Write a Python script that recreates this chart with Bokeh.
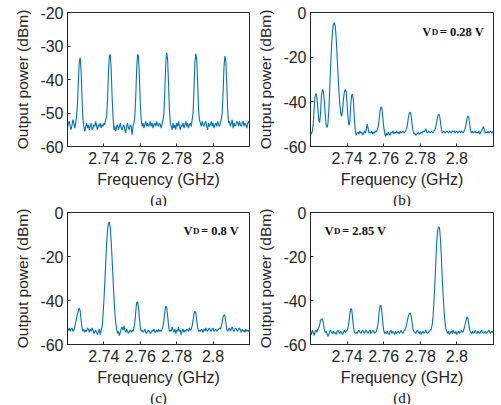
import numpy as np
from bokeh.plotting import figure
from bokeh.layouts import gridplot
from bokeh.models import FixedTicker, Label, Range1d, Title
from bokeh.embed import file_html
from bokeh.resources import INLINE

# sweep frequency samples (GHz)
freq = np.linspace(2.72, 2.82, 201)

x_ticks = [2.74, 2.76, 2.78, 2.8]
x_tick_labels = ["2.74", "2.76", "2.78", "2.8"]

y_ticks_a = [-60, -50, -40, -30, -20]
y_ticks_bcd = [-60, -40, -20, 0]

captions = ["(a)", "(b)", "(c)", "(d)"]
vd_labels = [None, "= 0.28 V", "= 0.8 V", "= 2.85 V"]

power_a = [
    -54.5, -53, -52.5, -54, -55, -53.5, -52, -53, -54.5, -53,
    -51, -47, -40, -34.5, -33.5, -38, -46, -52,
    -54, -55.5, -54, -53, -54.5, -53.5, -55, -54, -53, -55, -54.5, -53.5, -54, -52.5, -54, -55, -53.5, -54, -53, -54.5, -53.5, -54, -53, -53.5, -52,
    -51, -46, -38, -33, -32.5, -37, -45, -51,
    -55, -54, -55.5, -54, -53.5, -55, -54, -53, -54.5, -55, -54, -53.5, -55, -56, -54, -53, -54.5, -55, -53.5, -54, -56.5, -54, -53,
    -51, -45, -37, -32.5, -33, -39, -47, -52,
    -54, -53, -54.5, -53.5, -52.5, -54, -53, -54, -53.5, -52.5, -54, -53, -54.5, -53.5, -53, -54, -52.5, -53.5, -54, -53, -53.5, -54.5, -53, -52,
    -50, -43, -35, -32, -34, -41, -49, -53,
    -54, -55, -53, -54.5, -53.5, -55, -53, -54, -52.5, -54, -55, -53.5, -54, -53, -54.5, -53.5, -52.5, -54, -53, -54.5, -53.5, -53, -54, -52,
    -50, -43, -35, -32.3, -34, -41, -49, -52,
    -53, -54, -52.5, -53.5, -54, -53, -52.5, -54, -55, -53, -54, -53.5, -52.5, -54, -53, -54.5, -53.5, -53, -54, -52.5, -53.5, -54, -53, -52,
    -50, -44, -36, -33, -34.5, -41, -49, -53,
    -52.5, -54, -53, -52, -54.5, -53, -54, -53.5, -52.5, -53, -54, -52.5, -53.5, -54, -53, -52.5, -54, -53, -53.5, -54.5, -53, -52.5, -53.5,
]

power_b = [
    -53.5, -54.5, -53, -50, -43, -37.5, -36.2, -38, -43, -48, -49.3, -45, -37, -34.5, -35, -39, -45, -50, -51.5,
    -50, -44, -34, -24, -15, -9, -5.5, -4.5,
    -6, -11, -19, -27, -35, -41, -45, -46.5, -44, -39, -35.5, -34.5, -35.5, -41, -47, -50.5, -49, -41, -37, -36.5, -40, -48, -53, -55,
    -54, -53.5, -54.5, -53, -54, -53.5, -55, -54, -53, -54, -52.5, -50, -52, -54, -53.5, -54, -53, -54.5, -53.5, -54, -53, -53.5, -52.5,
    -51, -48, -44, -42.2, -43, -47, -51, -54,
    -55.5, -54, -55, -53.5, -54.5, -55, -53.5, -54, -53, -54.5, -53.5, -54, -53, -54, -53.5, -54.5, -53, -54, -53.5, -53, -54, -53.5, -53, -52,
    -50, -47, -45, -44.6, -46, -50, -53, -54.5,
    -54, -55, -54.5, -54, -53.5, -54.5, -54, -53.5, -54, -53, -53.5, -53, -52, -53.5, -54, -53, -53.5, -54, -53, -53.5, -54, -53, -52.5, -51,
    -49, -46.5, -45.5, -46, -49, -52, -54, -53.5,
    -53, -54, -53.5, -53, -53.5, -54, -53, -53.5, -54, -53, -53.5, -53, -54, -53.5, -53, -54, -53.5, -53, -54, -53, -53.5, -54, -53, -52,
    -50, -47.5, -46.3, -47, -50, -53, -54, -53,
    -54, -53.5, -53, -54, -53.5, -54, -53, -54.5, -53.5, -53, -52, -51, -52.5, -54, -53.5, -54, -53, -54, -53.5, -53, -54, -53.5, -53,
]

power_c = [
    -53, -53.5, -52.5, -54, -53, -52.5, -54, -53.5, -52, -50,
    -48, -46, -44.5, -43.4, -45, -49, -52.5, -54,
    -53, -54.5, -53.5, -54, -52.5, -53, -54.5, -53, -54, -52.5, -53.5, -55, -54, -53.5, -54.5, -55.5, -54, -53, -55.5, -53.5,
    -52, -47, -40, -32, -23, -14, -8, -4.8, -4.4, -7, -13, -21, -30, -38, -45, -50, -53,
    -55, -54, -56, -54.5, -53, -52, -53.5, -51.5, -53.5, -54.5, -53, -54, -55, -54, -53.5, -54.5, -53.5, -54, -52.5,
    -50, -45, -41, -40.6, -43, -48, -52, -54,
    -53.5, -54.5, -54, -53, -54.5, -55, -54, -53.5, -54, -55, -54.5, -53.5, -54, -53, -54.5, -54, -53.5, -54.5, -53, -54, -53.5, -54, -53, -51.5,
    -49, -45, -42.6, -43, -47, -51, -54, -53.5,
    -54, -52, -53.5, -54.5, -53, -55, -53.5, -54, -52, -54, -53.5, -55.5, -54, -53, -54.5, -53.5, -54, -53, -53.5, -54, -52.5, -53.5, -53, -51.5,
    -49, -46, -44.9, -45.5, -49, -52, -54, -53.5,
    -54, -53, -53.5, -54.5, -53, -54, -52.5, -53.5, -54, -53, -52.5, -53.5, -54, -53, -52.5, -54, -53.5, -53, -54, -53.5, -53, -52.5, -53, -51.5,
    -50, -47.5, -46.4, -47, -50, -53, -54, -53,
    -52.5, -54, -53, -52, -53.5, -54, -53, -52.5, -53.5, -54, -53, -52.5, -53.5, -54.5, -53, -54, -53.5, -54.5, -53, -54, -53.5, -54, -53.5,
]

power_d = [
    -54, -55.5, -53.5, -54.5, -56, -54, -53.5, -54.5, -53, -52.5,
    -51, -49, -48.5, -48.4, -50, -53, -54.5, -54,
    -55, -56.3, -55.5, -54, -53.5, -54.5, -55, -54, -55, -54.5, -55.5, -54, -53.5, -54.5, -55, -54, -54.5, -55.5, -54.5, -53.5, -54.5, -54, -53.5, -52.5,
    -50, -46, -43.7, -44, -48, -52, -54.5, -55,
    -54.5, -55, -54, -53.5, -54.5, -55, -54, -53.5, -54.5, -55, -54, -53.5, -54.5, -55, -54, -53.5, -55, -54.5, -53.5, -54, -55, -54.5, -54, -52.5,
    -50, -45, -42.5, -42.2, -45, -50, -53.5, -55,
    -54.5, -55, -54, -55, -55.5, -54, -53.5, -55, -54, -54.5, -55.5, -54, -55, -54.5, -54, -55, -54.5, -53.5, -54.5, -55, -54, -53.5, -52.5, -51,
    -49, -47, -46, -45.7, -47, -50, -53, -54,
    -54.5, -55, -54, -53.5, -54.5, -55, -54, -55.5, -54.5, -54, -55, -54.5, -53.5, -54.5, -55, -54.5, -54, -53.5,
    -53, -51, -47, -40, -32, -22, -13, -8, -6.5, -7, -12, -20, -30, -38, -45, -50, -53, -54,
    -55, -54, -55.5, -54.5, -54, -55, -53.5, -54.5, -55, -54, -55.5, -54.5, -54, -55, -54.5, -53.5, -54.5, -54, -52.5,
    -51, -49, -47.4, -48, -51, -53.5, -54.5, -55,
    -54, -55, -54.5, -53.5, -54.5, -55, -54, -54.5, -55, -54, -53.5, -54.5, -55, -54.5, -54, -55, -54.5, -54, -53.5, -54.5, -55, -54, -54.5, -54,
]

powers = [power_a, power_b, power_c, power_d]

AX = "#262626"
LINE = "#0072BD"
SANS = "Liberation Sans"
SERIF = "Liberation Serif"


def style_axis(ax, ticker, overrides):
    ax.ticker = FixedTicker(ticks=ticker)
    ax.major_label_overrides = overrides
    ax.major_tick_in = 3
    ax.major_tick_out = 0
    ax.minor_tick_line_color = None
    ax.major_tick_line_color = AX
    ax.axis_line_color = AX
    ax.major_label_text_color = AX
    ax.major_label_text_font = SANS
    ax.major_label_text_font_size = "16px"


def make_panel(k):
    row, col = k // 2, k % 2
    y = powers[k]
    if k == 0:
        ylo, yhi, yt = -60, -20, y_ticks_a
    else:
        ylo, yhi, yt = -60, 0, y_ticks_bcd
    height = 206 if row == 0 else 198
    width = 251 if col == 0 else 244
    p = figure(width=width, height=height, output_backend="svg", toolbar_location=None,
               title=None,
               x_range=Range1d(2.72, 2.82), y_range=Range1d(ylo, yhi),
               min_border_left=67 if col == 0 else 59,
               min_border_right=2,
               min_border_top=12 if row == 0 else 6,
               min_border_bottom=58)
    p.grid.visible = False
    p.outline_line_color = AX
    p.outline_line_alpha = 1.0
    p.background_fill_color = "white"
    p.border_fill_color = "white"

    xo = dict(zip(x_ticks, x_tick_labels))
    yo = {v: str(v) for v in yt}
    style_axis(p.xaxis[0], x_ticks, xo)
    style_axis(p.yaxis[0], yt, yo)
    p.xaxis[0].major_label_standoff = 5
    p.yaxis[0].major_label_standoff = 4
    p.xaxis[0].axis_label = "Frequency (GHz)"
    p.yaxis[0].axis_label = "Output power (dBm)"
    for ax in (p.xaxis[0], p.yaxis[0]):
        ax.axis_label_text_font = SANS
        ax.axis_label_text_font_style = "normal"
        ax.axis_label_text_color = AX
    p.xaxis[0].axis_label_text_font_size = "16px"
    p.yaxis[0].axis_label_text_font_size = "15.5px"
    p.xaxis[0].axis_label_standoff = 4
    p.yaxis[0].axis_label_standoff = 6

    p.line(freq, y, line_color=LINE, line_width=1.1)

    # caption below the axis label
    cap = Title(text=captions[k], align="center", text_font=SERIF, text_font_size="15px",
                text_font_style="normal", text_color="#111111", standoff=-2)
    p.add_layout(cap, "below")

    if vd_labels[k] is not None:
        vx = {1: 2.781, 2: 2.7837, 3: 2.7277}[k]
        vy = -8.6
        p.add_layout(Label(x=vx, y=vy, text="V", text_font=SERIF, text_font_style="bold",
                           text_font_size="12.5px", text_baseline="alphabetic", text_color="#111111"))
        p.add_layout(Label(x=vx, y=vy, x_offset=9.5, text="D", text_font=SERIF, text_font_style="bold",
                           text_font_size="9px", text_baseline="alphabetic", text_color="#111111"))
        p.add_layout(Label(x=vx, y=vy, x_offset=17.5, text=vd_labels[k], text_font=SERIF,
                           text_font_style="bold", text_font_size="12.5px",
                           text_baseline="alphabetic", text_color="#111111"))
    return p


panels = [make_panel(k) for k in range(4)]
grid = gridplot([[panels[0], panels[1]], [panels[2], panels[3]]], toolbar_location=None)

open("out.html", "w").write(file_html(grid, INLINE))
